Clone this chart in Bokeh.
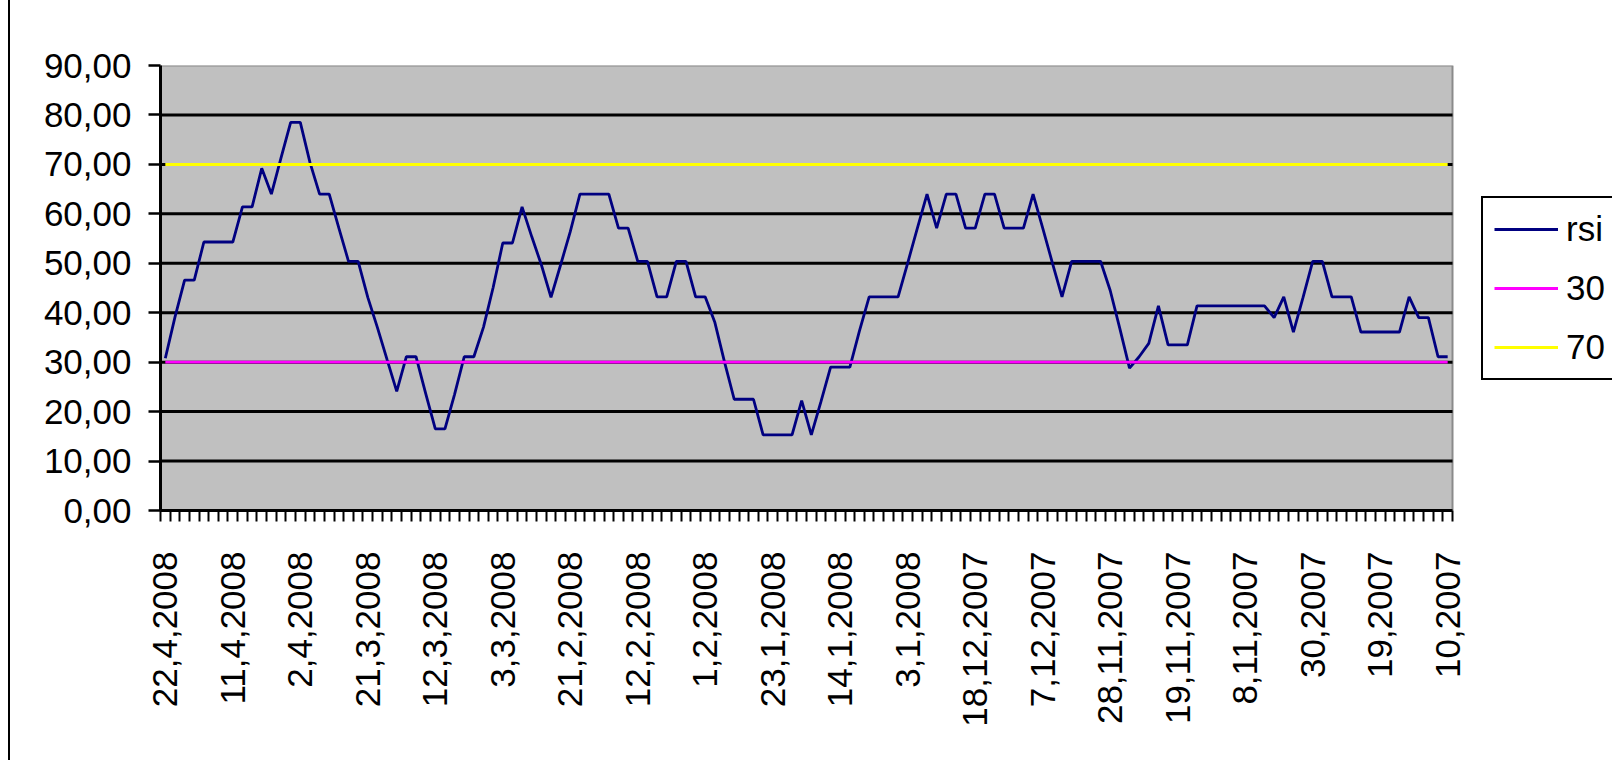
import math
from bokeh.plotting import figure
from bokeh.models import FixedTicker, Legend, LegendItem, Range1d
from bokeh.embed import file_html
from bokeh.resources import INLINE

# ---- data ----
rsi = [
    30.8, 39.1, 46.6, 46.6, 54.3, 54.3, 54.3, 54.3, 61.4, 61.4,
    69.2, 64.0, 71.3, 78.5, 78.5, 70.4, 64.0, 64.0, 57.1, 50.4,
    50.4, 43.1, 37.0, 30.5, 24.1, 31.1, 31.1, 23.7, 16.5, 16.5,
    23.5, 31.1, 31.1, 37.1, 45.1, 54.1, 54.1, 61.4, 55.4, 49.7,
    43.1, 49.7, 56.4, 64.0, 64.0, 64.0, 64.0, 57.1, 57.1, 50.4,
    50.4, 43.2, 43.2, 50.4, 50.4, 43.2, 43.2, 38.0, 30.0, 22.5,
    22.5, 22.5, 15.3, 15.3, 15.3, 15.3, 22.2, 15.3, 22.0, 29.0,
    29.0, 29.0, 36.4, 43.2, 43.2, 43.2, 43.2, 50.1, 57.1, 64.0,
    57.1, 64.0, 64.0, 57.1, 57.1, 64.0, 64.0, 57.1, 57.1, 57.1,
    64.0, 57.1, 50.1, 43.2, 50.4, 50.4, 50.4, 50.4, 44.5, 36.8,
    28.8, 31.1, 33.8, 41.4, 33.5, 33.5, 33.5, 41.4, 41.4, 41.4,
    41.4, 41.4, 41.4, 41.4, 41.4, 39.0, 43.2, 36.1, 43.1, 50.4,
    50.4, 43.2, 43.2, 43.2, 36.1, 36.1, 36.1, 36.1, 36.1, 43.2,
    39.0, 39.0, 31.1, 31.1,
]
tick_labels = [
    "22,4,2008", "11,4,2008", "2,4,2008", "21,3,2008", "12,3,2008",
    "3,3,2008", "21,2,2008", "12,2,2008", "1,2,2008", "23,1,2008",
    "14,1,2008", "3,1,2008", "18,12,2007", "7,12,2007", "28,11,2007",
    "19,11,2007", "8,11,2007", "30,2007", "19,2007", "10,2007",
]
label_step = 7
y_ticks = [0, 10, 20, 30, 40, 50, 60, 70, 80, 90]
level_low = 30
level_high = 70
series_names = ["rsi", "30", "70"]

n = len(rsi)
x = list(range(n))
series_low = [level_low] * n
series_high = [level_high] * n

FONT = "Liberation Sans"
FSIZE = "35px"

# layout (pixels)
AREA_W = 1292          # width of the grey plot area
FRAME_W = 1452         # frame also hosts the legend on the right
FRAME_H = 445
x_lo = -0.5
x_hi = x_lo + n * FRAME_W / AREA_W
area_right = n - 0.5

p = figure(frame_width=FRAME_W, frame_height=FRAME_H, output_backend="svg",
           toolbar_location=None,
           x_range=Range1d(x_lo, x_hi), y_range=Range1d(y_ticks[0], y_ticks[-1]),
           min_border_left=150, min_border_right=4, min_border_top=65,
           min_border_bottom=250)
p.styles = {"margin-left": "8px", "border-left": "2px solid #000000"}
p.background_fill_color = "white"
p.border_fill_color = "white"
p.outline_line_color = None

# grey plot area with its grey border
p.quad(left=x_lo, right=area_right, bottom=y_ticks[0], top=y_ticks[-1],
       fill_color="#C0C0C0", line_color="#8a8a8a", line_width=2)
# horizontal gridlines across the plot area only
p.segment(x0=[x_lo] * (len(y_ticks) - 2), x1=[area_right] * (len(y_ticks) - 2),
          y0=y_ticks[1:-1], y1=y_ticks[1:-1], line_color="#000000", line_width=3)

# x axis
xa = p.xaxis[0]
xa.bounds = (x_lo, area_right)
xa.ticker = FixedTicker(ticks=[i * label_step for i in range(len(tick_labels))],
                        minor_ticks=[i - 0.5 for i in range(n + 1)])
xa.major_label_overrides = {i * label_step: lab for i, lab in enumerate(tick_labels)}
xa.major_tick_line_color = None
xa.major_tick_out = 11
xa.major_tick_in = 0
xa.minor_tick_out = 11
xa.minor_tick_in = 0
xa.minor_tick_line_color = "#000000"
xa.minor_tick_line_width = 2
xa.major_label_orientation = math.pi / 2
xa.major_label_standoff = 30
xa.axis_line_width = 3
xa.axis_line_color = "#000000"

# y axis
ya = p.yaxis[0]
ya.ticker = FixedTicker(ticks=y_ticks)
ya.major_label_overrides = {v: f"{v},00" for v in y_ticks}
ya.major_tick_out = 12
ya.major_tick_in = 0
ya.major_tick_line_width = 2.5
ya.major_tick_line_color = "#000000"
ya.minor_tick_line_color = None
ya.major_label_standoff = 17
ya.axis_line_width = 3
ya.axis_line_color = "#000000"

for ax in (xa, ya):
    ax.major_label_text_font = FONT
    ax.major_label_text_font_size = FSIZE
    ax.major_label_text_color = "#000000"

p.xgrid.visible = False
p.ygrid.visible = False

r_rsi = p.line(x, rsi, line_color="#000080", line_width=2.8)
r_low = p.line(x, series_low, line_color="#FF00FF", line_width=2.8)
r_high = p.line(x, series_high, line_color="#FFFF00", line_width=3)

legend = Legend(items=[LegendItem(label=series_names[0], renderers=[r_rsi]),
                       LegendItem(label=series_names[1], renderers=[r_low]),
                       LegendItem(label=series_names[2], renderers=[r_high])],
                location=(1321, 130))
legend.border_line_color = "#000000"
legend.border_line_alpha = 1
legend.border_line_width = 2.5
legend.background_fill_color = "white"
legend.background_fill_alpha = 1
legend.padding = 11
legend.spacing = 19
legend.margin = 0
legend.glyph_width = 64
legend.glyph_height = 40
legend.label_height = 40
legend.label_standoff = 8
legend.label_text_font = FONT
legend.label_text_font_size = FSIZE
legend.label_text_color = "#000000"
p.add_layout(legend)

open("out.html", "w").write(file_html(p, INLINE))
